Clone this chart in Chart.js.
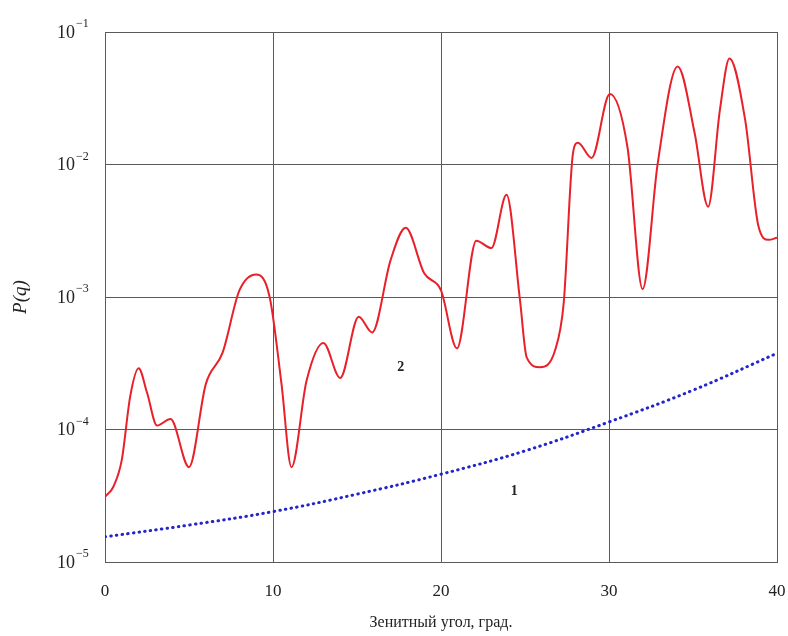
<!DOCTYPE html>
<html>
<head>
<meta charset="utf-8">
<script src="https://cdn.jsdelivr.net/npm/chart.js@4/dist/chart.umd.min.js"></script>
<style>
  html, body { margin: 0; padding: 0; background: #fff; }
  #wrap { width: 788px; height: 636px; }
</style>
</head>
<body>
<div id="wrap"><canvas id="chart" width="788" height="636"></canvas></div>
<script>
/* ── Data ── */
const angleRed = [0, 0.5, 1, 1.5, 2, 2.5, 3.1, 3.9, 5.0, 6.0, 7.0, 8.0, 9.0, 9.8, 10.5, 11.1, 12.0, 13.0, 14.0, 15.1,
  15.9, 17.0, 17.9, 19.0, 20.0, 20.95, 22.1, 23.0, 23.9, 24.7, 25.1, 25.9, 26.8, 27.3, 27.86, 28.15, 28.96, 30.05,
  31.1, 32.0, 32.9, 34.09, 35.1, 35.9, 36.6, 37.17, 38.1, 38.9, 39.5, 40];
const probRed = [3.1e-5, 3.7e-5, 5.9e-5, 1.78e-4, 2.9e-4, 1.9e-4, 1.07e-4, 1.2e-4, 5.2e-5, 2.2e-4, 3.8e-4, 1.12e-3,
  1.48e-3, 1.0e-3, 2.24e-4, 5.2e-5, 2.34e-4, 4.5e-4, 2.45e-4, 7.1e-4, 5.4e-4, 1.9e-3, 3.33e-3, 1.51e-3, 1.12e-3,
  4.1e-4, 2.66e-3, 2.34e-3, 5.9e-3, 9.5e-4, 3.5e-4, 2.95e-4, 4.0e-4, 8.9e-4, 1.23e-2, 1.46e-2, 1.12e-2, 3.4e-2,
  1.35e-2, 1.15e-3, 1.02e-2, 5.5e-2, 1.72e-2, 4.8e-3, 2.57e-2, 6.3e-2, 2.19e-2, 3.4e-3, 2.7e-3, 2.8e-3];

const angleBlue = [0, 5, 10, 15, 20, 25, 30, 35, 40];
const probBlue  = [1.55e-5, 1.9e-5, 2.4e-5, 3.25e-5, 4.6e-5, 6.9e-5, 1.14e-4, 1.98e-4, 3.76e-4];

const xTicks = [0, 10, 20, 30, 40];
const yTicks = [1e-5, 1e-4, 1e-3, 1e-2, 1e-1];

const curveLabels = ["1", "2"];
const curveLabelX = [24.36, 17.6];
const curveLabelY = [3.4e-5, 2.95e-4];

const SERIF = "'Liberation Serif', 'DejaVu Serif', serif";
const GRID = "#5a5a5a";

const toPoints = (xs, ys) => xs.map((x, i) => ({ x: x, y: ys[i] }));

/* ── Plugin: tick labels (10 with superscript exponent) and curve numbers ── */
const decorPlugin = {
  id: "decor",
  afterDraw(chart) {
    const ctx = chart.ctx;
    const ys = chart.scales.y, xs = chart.scales.x;
    ctx.save();
    ctx.fillStyle = "#222";
    yTicks.forEach(v => {
      const py = ys.getPixelForValue(v);
      const exp = Math.round(Math.log10(v));
      ctx.font = "18px " + SERIF;
      ctx.textAlign = "right";
      ctx.textBaseline = "middle";
      ctx.fillText("10", 75, py + 1);
      ctx.font = "12px " + SERIF;
      ctx.textAlign = "left";
      ctx.fillText("\u2212" + Math.abs(exp), 76, py - 8);
    });
    ctx.font = "17px " + SERIF;
    ctx.textAlign = "center";
    ctx.textBaseline = "middle";
    xTicks.forEach(v => {
      ctx.fillText(String(v), xs.getPixelForValue(v), chart.chartArea.bottom + 30);
    });
    ctx.font = "bold 14px " + SERIF;
    curveLabels.forEach((t, i) => {
      ctx.fillText(t, xs.getPixelForValue(curveLabelX[i]), ys.getPixelForValue(curveLabelY[i]));
    });
    ctx.restore();
  }
};

new Chart(document.getElementById("chart"), {
  type: "line",
  data: {
    datasets: [
      {
        label: "2",
        data: toPoints(angleRed, probRed),
        borderColor: "#e8202a",
        borderWidth: 2,
        pointRadius: 0,
        cubicInterpolationMode: "monotone",
        fill: false
      },
      {
        label: "1",
        data: toPoints(angleBlue, probBlue),
        borderColor: "#2424cc",
        borderWidth: 3,
        borderDash: [0.5, 5.2],
        borderCapStyle: "round",
        pointRadius: 0,
        tension: 0.4,
        fill: false
      }
    ]
  },
  options: {
    responsive: false,
    animation: false,
    layout: { padding: { left: 0, top: 32, right: 11, bottom: 0 } },
    plugins: { legend: { display: false }, tooltip: { enabled: false } },
    scales: {
      x: {
        type: "linear",
        min: 0, max: 40,
        afterBuildTicks: s => { s.ticks = xTicks.map(v => ({ value: v })); },
        afterFit: s => { s.height = 74; },
        grid: { color: GRID, lineWidth: 1, drawTicks: false },
        border: { color: GRID, width: 1 },
        ticks: { display: false },
        title: {
          display: true,
          text: "Зенитный угол, град.",
          color: "#222",
          font: { family: SERIF, size: 16 },
          padding: { top: 0, bottom: 4 }
        }
      },
      y: {
        type: "logarithmic",
        min: 1e-5, max: 1e-1,
        afterBuildTicks: s => { s.ticks = yTicks.map(v => ({ value: v })); },
        afterFit: s => { s.width = 105; },
        grid: { color: GRID, lineWidth: 1, drawTicks: false },
        border: { color: GRID, width: 1 },
        ticks: { display: false },
        title: {
          display: true,
          text: "P(q)",
          color: "#222",
          font: { family: SERIF, size: 19, style: "italic" },
          padding: { top: 10, bottom: 0 }
        }
      }
    }
  },
  plugins: [decorPlugin]
});
</script>
</body>
</html>
